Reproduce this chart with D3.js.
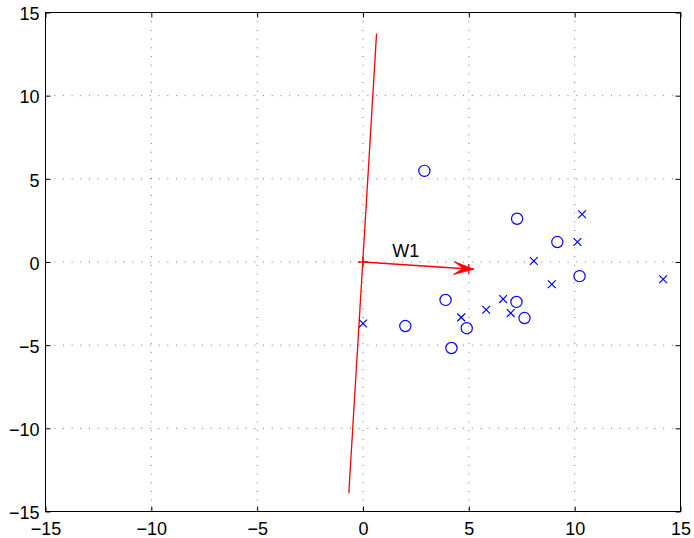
<!DOCTYPE html>
<html>
<head>
<meta charset="utf-8">
<script src="https://cdn.jsdelivr.net/npm/d3@7"></script>
<style>
  html, body { margin: 0; padding: 0; background: #fff; }
  svg { display: block; }
  text { font-family: "Liberation Sans", Arial, Helvetica, sans-serif; }
</style>
</head>
<body>
<svg id="chart" width="694" height="538"></svg>
<script>
// ---- data ----
const xTicks = [-15, -10, -5, 0, 5, 10, 15];
const yTicks = [-15, -10, -5, 0, 5, 10, 15];

const circleX = [2.9, 7.28, 9.18, 10.23, 3.9, 7.25, 2.0, 4.9, 7.63, 4.18];
const circleY = [5.48, 2.6, 1.2, -0.85, -2.28, -2.4, -3.85, -3.98, -3.37, -5.17];

const crossX = [0.0, 4.64, 5.82, 6.62, 6.98, 8.92, 8.07, 10.13, 10.35, 14.18];
const crossY = [-3.7, -3.33, -2.87, -2.23, -3.07, -1.34, 0.06, 1.2, 2.87, -1.04];

const lineX = [-0.67, 0.64];
const lineY = [-13.9, 13.73];

const arrowX = [0, 5.0];
const arrowY = [0, -0.42];
const arrowLabel = "W1";
const labelPos = [1.38, 0.32];

// ---- layout ----
const svg = d3.select("#chart");
const x = d3.scaleLinear().domain([-15, 15]).range([45.5, 680.5]);
const y = d3.scaleLinear().domain([-15, 15]).range([511.5, 12.5]);

const fmt = d => (d < 0 ? "\u2212" + Math.abs(d) : String(d));

// grid
const g = svg.append("g");
g.selectAll("line.vg").data(xTicks.slice(1, -1)).join("line")
  .attr("x1", d => x(d)).attr("x2", d => x(d))
  .attr("y1", y(15)).attr("y2", y(-15))
  .attr("stroke", "#000").attr("stroke-opacity", 0.55)
  .attr("stroke-width", 1).attr("stroke-dasharray", "1,7.7");
g.selectAll("line.hg").data(yTicks.slice(1, -1)).join("line")
  .attr("y1", d => y(d)).attr("y2", d => y(d))
  .attr("x1", x(-15)).attr("x2", x(15))
  .attr("stroke", "#000").attr("stroke-opacity", 0.55)
  .attr("stroke-width", 1).attr("stroke-dasharray", "1,7.7");

// axes via d3 axis (inward ticks), labels
const axB = svg.append("g").attr("transform", `translate(0,${y(-15)})`)
  .call(d3.axisBottom(x).tickValues(xTicks).tickSize(-5).tickPadding(11).tickFormat(fmt));
const axT = svg.append("g").attr("transform", `translate(0,${y(15)})`)
  .call(d3.axisTop(x).tickValues(xTicks).tickSize(-5).tickFormat(""));
const axL = svg.append("g").attr("transform", `translate(${x(-15)},0)`)
  .call(d3.axisLeft(y).tickValues(yTicks).tickSize(-5).tickPadding(6).tickFormat(fmt));
const axR = svg.append("g").attr("transform", `translate(${x(15)},0)`)
  .call(d3.axisRight(y).tickValues(yTicks).tickSize(-5).tickFormat(""));
[axB, axT, axL, axR].forEach(a => {
  a.select(".domain").remove();
  a.selectAll(".tick line").attr("stroke", "#000").attr("stroke-width", 1);
});
axB.selectAll("text").attr("font-size", 18).attr("fill", "#000")
  .attr("font-family", "Liberation Sans, Arial, sans-serif");
axL.selectAll("text").attr("font-size", 18).attr("fill", "#000")
  .attr("font-family", "Liberation Sans, Arial, sans-serif").attr("dy", "0.4em");

// box
svg.append("rect")
  .attr("x", x(-15)).attr("y", y(15))
  .attr("width", x(15) - x(-15)).attr("height", y(-15) - y(15))
  .attr("fill", "none").attr("stroke", "#000").attr("stroke-width", 1);

// red line
svg.append("line")
  .attr("x1", x(lineX[0])).attr("y1", y(lineY[0]))
  .attr("x2", x(lineX[1])).attr("y2", y(lineY[1]))
  .attr("stroke", "#ff0000").attr("stroke-width", 1.3);

// arrow
const ax0 = x(arrowX[0]), ay0 = y(arrowY[0]), ax1 = x(arrowX[1]), ay1 = y(arrowY[1]);
svg.append("line")
  .attr("x1", ax0).attr("y1", ay0).attr("x2", ax1).attr("y2", ay1)
  .attr("stroke", "#ff0000").attr("stroke-width", 1.3);
// plus markers at both ends
[[ax0, ay0], [ax1, ay1]].forEach(([px, py]) => {
  svg.append("path")
    .attr("d", `M${px - 5},${py}H${px + 5}M${px},${py - 5}V${py + 5}`)
    .attr("stroke", "#ff0000").attr("stroke-width", 1.3).attr("fill", "none");
});
// arrowhead
{
  const dx = ax1 - ax0, dy = ay1 - ay0, L = Math.hypot(dx, dy);
  const ux = dx / L, uy = dy / L, nx = -uy, ny = ux;
  const tipX = ax1 + 5 * ux, tipY = ay1 + 5 * uy;
  const back = 20, half = 6.5, notch = 11;
  const p = (a, b) => [tipX - a * ux + b * nx, tipY - a * uy + b * ny];
  const pts = [p(0, 0), p(back, half), p(notch, 0), p(back, -half)];
  svg.append("path").attr("d", "M" + pts.map(q => q.join(",")).join("L") + "Z")
    .attr("fill", "#ff0000").attr("stroke", "#ff0000").attr("stroke-width", 0.8);
}
svg.append("text")
  .attr("x", x(labelPos[0])).attr("y", y(labelPos[1]))
  .attr("font-size", 18).attr("fill", "#000").text(arrowLabel);

// circles
svg.append("g").selectAll("circle").data(circleX.map((d, i) => [d, circleY[i]])).join("circle")
  .attr("cx", d => x(d[0])).attr("cy", d => y(d[1])).attr("r", 5.6)
  .attr("fill", "none").attr("stroke", "#0000ff").attr("stroke-width", 1.2);

// crosses
const cs = 3.9;
svg.append("g").selectAll("path").data(crossX.map((d, i) => [d, crossY[i]])).join("path")
  .attr("d", d => {
    const cx = x(d[0]), cy = y(d[1]);
    return `M${cx - cs},${cy - cs}L${cx + cs},${cy + cs}M${cx - cs},${cy + cs}L${cx + cs},${cy - cs}`;
  })
  .attr("fill", "none").attr("stroke", "#0000ff").attr("stroke-width", 1.2);
</script>
</body>
</html>
